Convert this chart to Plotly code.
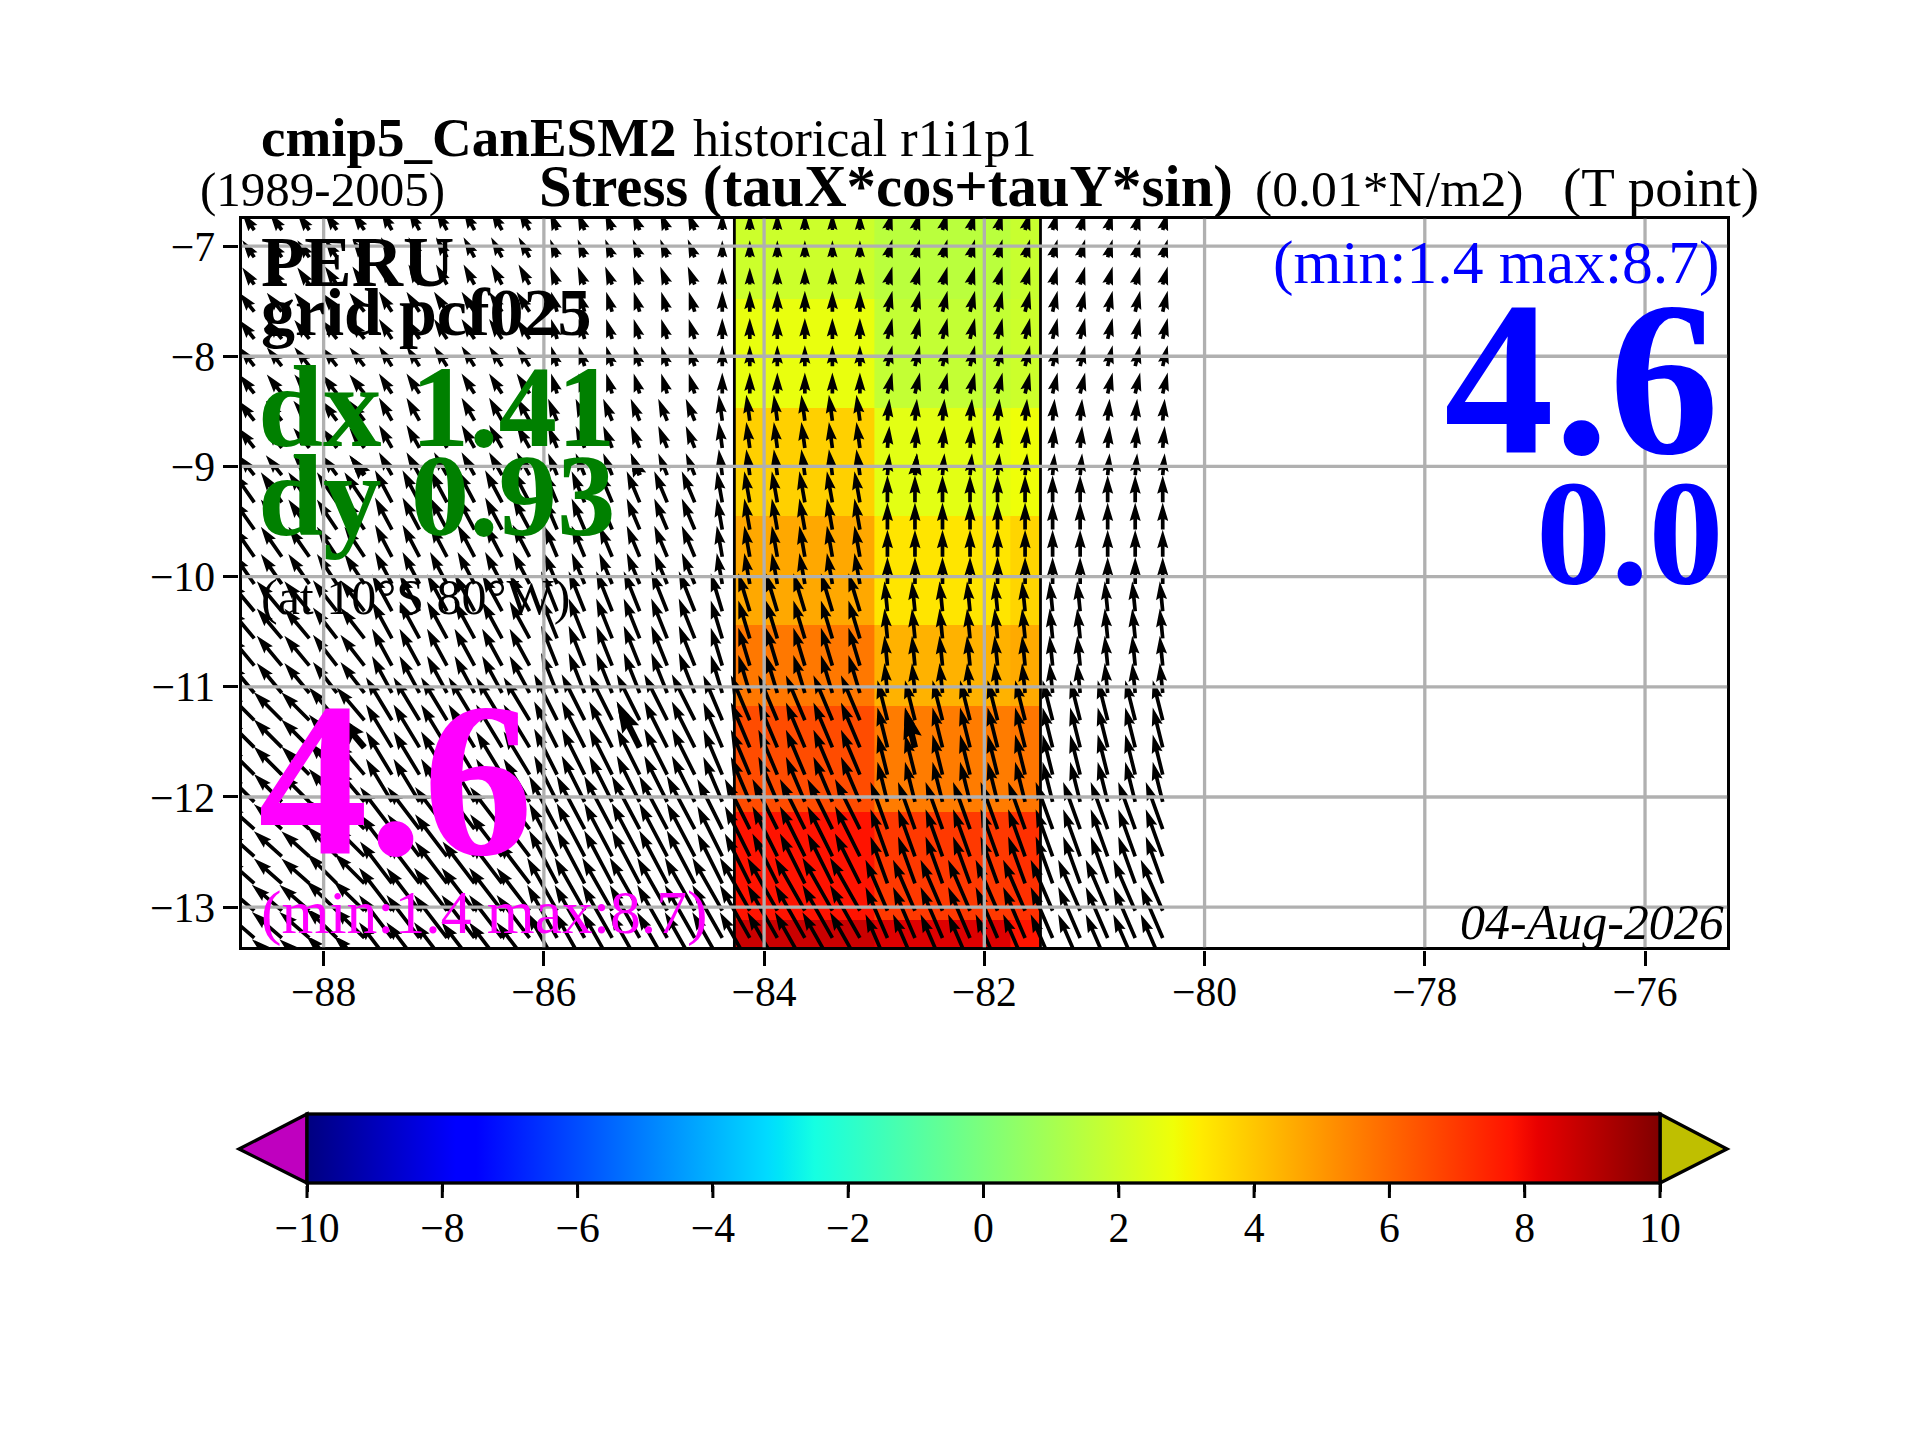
#!/usr/bin/env python3
import numpy as np
import plotly.graph_objects as go

# page body keeps its default 8px margin
W = 1904
H = 1424
OFF = 8

x_ticks = [-88, -86, -84, -82, -80, -78, -76]
y_ticks = [-13, -12, -11, -10, -9, -8, -7]
cbar_ticks = [-10, -8, -6, -4, -2, 0, 2, 4, 6, 8, 10]
x_range = [-88.745, -75.252]
y_range = [-13.365, -6.751]

# stress mesh, rows bottom to top
mesh_lon_edges = [-84.27, -83.0, -81.76, -81.49]
mesh_lat_edges = [-13.5, -13.12, -12.14, -11.17, -10.44, -9.45, -8.47, -7.48, -6.6]
mesh_z = [
    [8.7, 8.38, 7.76],
    [7.8, 7.0, 7.18],
    [6.6, 5.58, 5.7],
    [5.66, 4.42, 4.6],
    [4.64, 3.34, 3.68],
    [3.8, 2.52, 2.8],
    [2.65, 1.72, 1.96],
    [1.96, 1.5, 1.85],
]

# quiver tail positions
quiver_lons = [-88.88, -88.63, -88.38, -88.13, -87.88, -87.63, -87.38, -87.13, -86.88, -86.63,
               -86.38, -86.13, -85.88, -85.63, -85.38, -85.13, -84.88, -84.63, -84.38, -84.13,
               -83.88, -83.63, -83.38, -83.13, -82.88, -82.63, -82.38, -82.13, -81.88, -81.63,
               -81.38, -81.13, -80.88, -80.63, -80.38]
quiver_lats = [-6.855, -7.102, -7.349, -7.596, -7.843, -8.09, -8.338, -8.585, -8.832, -9.079,
               -9.326, -9.573, -9.82, -10.067, -10.314, -10.561, -10.808, -11.056, -11.303, -11.55,
               -11.797, -12.044, -12.291, -12.538, -12.785, -13.032, -13.279, -13.526]
# second, sparser quiver that sits on the same grid
big_lons = [-87.63, -85.13, -82.63]
big_lats = [-9.079, -11.55]

# coarse model cells for the stress vectors, rows top to bottom, columns west to east
cell_lon_edges = [-88.0, -87.45, -85.95, -84.5, -83.0]
cell_lat_edges = [-7.47, -8.46, -9.19, -10.18, -11.14, -12.13, -12.87]
tau_u = [
    [-1.2, -1.2, -1.1, -0.7, 0.0, 0.5],
    [-1.5, -1.5, -1.3, -0.6, 0.0, 0.5],
    [-1.6, -1.5, -1.3, -0.9, -0.35, 0.2],
    [-2.1, -2.0, -1.7, -1.3, -0.55, 0.0],
    [-2.5, -2.4, -2.0, -1.6, -1.15, -0.3],
    [-2.8, -2.8, -2.6, -2.3, -1.9, -1.0],
    [-2.8, -3.0, -3.2, -2.8, -2.5, -1.7],
    [-3.0, -3.1, -3.3, -3.0, -3.0, -2.2],
]
tau_v = [
    [1.7, 1.8, 2.0, 1.8, 1.7, 1.8],
    [1.9, 1.9, 2.0, 2.0, 2.1, 2.1],
    [2.0, 2.0, 2.3, 2.2, 2.6, 2.2],
    [3.0, 3.0, 3.2, 3.1, 3.1, 2.7],
    [3.0, 3.1, 3.7, 4.0, 3.8, 3.0],
    [2.8, 3.3, 4.3, 4.6, 4.5, 4.0],
    [2.5, 3.0, 4.2, 5.3, 5.0, 4.7],
    [2.6, 3.0, 4.3, 5.3, 5.3, 5.1],
]

jet = [
    [0.0, "#000080"], [0.11, "#0000ff"], [0.125, "#0000ff"], [0.34, "#00dbff"],
    [0.35, "#00e6f7"], [0.375, "#15ffe2"], [0.64, "#efff08"], [0.65, "#f7f600"],
    [0.66, "#ffec00"], [0.89, "#ff1300"], [0.91, "#e80000"], [1.0, "#800000"],
]

SERIF = "Liberation Serif"
PX_PER_DEG = 110.2
QUIVER_SCALE = 10.0 / PX_PER_DEG  # degrees of arrow per unit of stress
SHAFT = 3.7 / PX_PER_DEG


def px(x):
    return (x - OFF) / W


def py(y):
    return 1 - (y - OFF) / H


def arrow(lon, lat, u, v, w):
    # same polygon as a matplotlib quiver arrow, tail on the grid point
    ux = u * QUIVER_SCALE
    vy = v * QUIVER_SCALE
    length = np.hypot(ux, vy)
    k = min(1.0, length / (5 * w))
    w = w * k
    a = [0, length - 4.5 * w, length - 5 * w, length, length - 5 * w, length - 4.5 * w, 0, 0]
    b = [-w / 2, -w / 2, -1.5 * w, 0, 1.5 * w, w / 2, w / 2, -w / 2]
    cs, sn = ux / length, vy / length
    xs = [lon + p * cs - q * sn for p, q in zip(a, b)]
    ys = [lat + p * sn + q * cs for p, q in zip(a, b)]
    return xs + [None], ys + [None]


def quiver_trace(lons, lats, w):
    xs, ys = [], []
    for lat in lats:
        row = sum(lat < e for e in cell_lat_edges)
        for lon in lons:
            col = sum(lon > e for e in cell_lon_edges)
            ax, ay = arrow(lon, lat, tau_u[row][col], tau_v[row][col], w)
            xs += ax
            ys += ay
    return go.Scatter(x=xs, y=ys, mode="lines", fill="toself", fillcolor="black",
                      line=dict(width=0, color="black", simplify=False),
                      hoverinfo="skip", showlegend=False)


fig = go.Figure()

fig.add_trace(go.Heatmap(
    x=mesh_lon_edges, y=mesh_lat_edges, z=mesh_z, zmin=-10, zmax=10, colorscale=jet,
    hoverinfo="skip",
    colorbar=dict(
        orientation="h", x=px(307), xanchor="left", y=py(1114), yanchor="top",
        len=1353 / W, lenmode="fraction", thickness=69, thicknessmode="pixels",
        xpad=0, ypad=0, outlinewidth=3.3, outlinecolor="black",
        ticks="outside", ticklen=8, tickwidth=3, tickcolor="black",
        tickmode="array", tickvals=cbar_ticks,
        ticktext=[str(t).replace("-", "\u2212") for t in cbar_ticks],
        tickfont=dict(family=SERIF, size=41.67, color="black"),
    ),
))

fig.add_trace(go.Scatter(
    x=[mesh_lon_edges[0], mesh_lon_edges[0], None, mesh_lon_edges[-1], mesh_lon_edges[-1]],
    y=[y_range[0], y_range[1], None, y_range[0], y_range[1]],
    mode="lines", line=dict(color="black", width=2.8), hoverinfo="skip", showlegend=False,
))
fig.add_trace(quiver_trace(quiver_lons, quiver_lats, SHAFT))
fig.add_trace(quiver_trace(big_lons, big_lats, SHAFT * 1.7))

# grid sits over the vectors in the original
for t in x_ticks:
    fig.add_shape(type="line", xref="x", yref="y", x0=t, x1=t, y0=y_range[0], y1=y_range[1],
                  layer="above", line=dict(color="#b0b0b0", width=3.3))
for t in y_ticks:
    fig.add_shape(type="line", xref="x", yref="y", x0=x_range[0], x1=x_range[1], y0=t, y1=t,
                  layer="above", line=dict(color="#b0b0b0", width=3.3))

# colorbar extensions
cb_top, cb_mid, cb_bot = py(1114), py(1149), py(1183)
for edge, tip, colour in [(307, 239, "#bf00bf"), (1660, 1727, "#bfbf00")]:
    fig.add_shape(type="path", xref="paper", yref="paper", layer="above",
                  path=f"M {px(edge)} {cb_top} L {px(tip)} {cb_mid} L {px(edge)} {cb_bot} Z",
                  fillcolor=colour, line=dict(color="black", width=3.3))
# the colorbar has no label standoff, so its ticks are finished here
for t in cbar_ticks:
    tx = px(307 + (t + 10) / 20 * 1353)
    fig.add_shape(type="line", xref="paper", yref="paper", x0=tx, x1=tx, y0=py(1186), y1=py(1198),
                  layer="above", line=dict(color="black", width=3))


def label(text, x, base, size, color="black", anchor="left", bold=False, italic=False):
    # x and base are page pixels, base is the text baseline
    fig.add_annotation(
        text=f"<b>{text}</b>" if bold else text,
        xref="paper", yref="paper", x=px(x), y=py(base + 0.216 * size + 1),
        xanchor=anchor, yanchor="bottom", showarrow=False, borderpad=0, borderwidth=0,
        font=dict(family=SERIF, size=size, color=color, style="italic" if italic else "normal"),
    )


label("cmip5_CanESM2", 261, 155, 55, bold=True)
label("historical r1i1p1", 693, 155, 52.2)
label("(1989-2005)", 200, 205, 49)
label("Stress (tauX*cos+tauY*sin)", 539, 205, 58.8, bold=True)
label("(0.01*N/m2)", 1255, 205, 51.7)
label("(T point)", 1563, 205, 55)
label("PERU", 261, 285, 71, bold=True)
label("grid pcf025", 261, 334, 68, bold=True)
label("dx 1.41", 258, 445, 117, color="#008000", bold=True)
label("dy 0.93", 258, 534, 117, color="#008000", bold=True)
label("(at 10\u00b0S 80\u00b0W)", 261, 613, 50)
label("4.6", 258, 853, 220, color="#ff00ff", bold=True)
label("(min:1.4 max:8.7)", 261, 933, 61.6, color="#ff00ff")
label("(min:1.4 max:8.7)", 1720, 283, 61.6, color="#0000ff", anchor="right")
label("4.6", 1719, 452, 220, color="#0000ff", anchor="right", bold=True)
label("0.0", 1724, 583, 150, color="#0000ff", anchor="right", bold=True)
label("04-Aug-2026", 1724, 938, 50, anchor="right", italic=True)

axis_style = dict(
    showgrid=False, zeroline=False, showline=True, mirror=True, linecolor="black", linewidth=3.3,
    ticks="outside", ticklen=15, tickwidth=3.3, tickcolor="black",
    tickfont=dict(family=SERIF, size=41.67, color="black"), tickmode="array",
)
fig.update_layout(
    width=W, height=H, margin=dict(l=0, r=0, t=0, b=0),
    paper_bgcolor="white", plot_bgcolor="white", showlegend=False,
    font=dict(family=SERIF),
    xaxis=dict(range=x_range, domain=[px(241.6), px(1727.4)], anchor="y", tickvals=x_ticks,
               ticklabelstandoff=-10,
               ticktext=[str(t).replace("-", "\u2212") for t in x_ticks], **axis_style),
    yaxis=dict(range=y_range, domain=[py(947.4), py(218.6)], anchor="x", tickvals=y_ticks,
               ticktext=[str(t).replace("-", "\u2212") for t in y_ticks], **axis_style),
)

fig.write_html("out.html")
